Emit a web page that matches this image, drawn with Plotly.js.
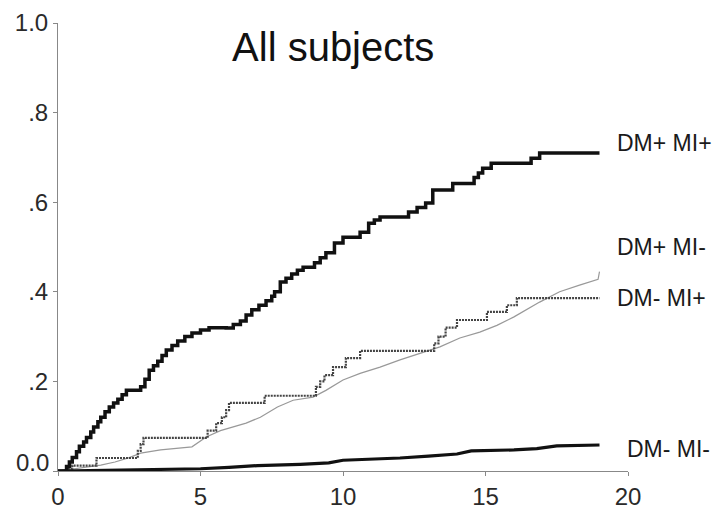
<!DOCTYPE html>
<html>
<head>
<meta charset="utf-8">
<script src="https://cdn.plot.ly/plotly-3.0.1.min.js"></script>
<style>html,body{margin:0;padding:0;background:#fff;}#chart{width:726px;height:510px;}</style>
</head>
<body>
<div id="chart"></div>
<script>
// Years of follow-up (x) and cumulative incidence (y) for each group
const dmPosMiPosX = [0,0.3,0.4,0.5,0.65,0.75,0.9,1.0,1.15,1.25,1.4,1.5,1.65,1.8,1.95,2.1,2.25,2.4,2.9,3.05,3.2,3.35,3.5,3.65,3.8,4.0,4.2,4.45,4.7,5.0,5.3,5.9,6.15,6.4,6.6,6.8,7.05,7.3,7.5,7.6,7.8,8.0,8.2,8.4,8.6,9.0,9.2,9.4,9.7,10.0,10.6,10.9,11.1,11.3,11.9,12.3,12.6,12.9,13.15,13.85,14.6,14.75,14.9,15.2,16.6,16.9,19.0];
const dmPosMiPosY = [0,0.01,0.02,0.03,0.043,0.055,0.065,0.075,0.087,0.098,0.11,0.12,0.132,0.143,0.152,0.16,0.17,0.18,0.188,0.205,0.225,0.235,0.245,0.258,0.27,0.28,0.29,0.3,0.308,0.315,0.32,0.319,0.327,0.335,0.348,0.36,0.37,0.38,0.39,0.40,0.422,0.43,0.44,0.448,0.455,0.465,0.476,0.487,0.509,0.522,0.533,0.553,0.56,0.567,0.567,0.578,0.588,0.598,0.627,0.642,0.655,0.665,0.676,0.687,0.698,0.71,0.71];

const dmNegMiPosX = [0,0.3,0.5,1.35,2.8,2.9,3.0,5.25,5.55,5.75,5.9,6.0,7.25,9.05,9.2,9.35,9.65,10.1,10.6,13.2,13.35,13.6,14.0,15.05,15.75,16.1,19.0];
const dmNegMiPosY = [0,0.005,0.012,0.029,0.045,0.06,0.074,0.09,0.107,0.12,0.136,0.152,0.168,0.188,0.2,0.214,0.232,0.252,0.268,0.285,0.30,0.32,0.337,0.355,0.37,0.386,0.386];

const dmPosMiNegX = [0,0.5,1.0,1.5,2.0,2.5,2.9,3.6,4.7,5.2,5.7,6.6,7.1,7.7,8.25,8.95,9.4,10.0,10.6,11.3,12.0,12.7,13.4,14.1,14.8,15.4,16.0,16.9,17.6,18.3,18.9,18.95,19.0];
const dmPosMiNegY = [0,0.004,0.008,0.013,0.02,0.03,0.04,0.047,0.054,0.076,0.09,0.107,0.12,0.143,0.158,0.165,0.18,0.203,0.218,0.232,0.248,0.263,0.277,0.297,0.31,0.325,0.344,0.377,0.40,0.415,0.426,0.428,0.445];

const dmNegMiNegX = [0,2,4,5,6,7,8.5,9.5,10,11,12,13,14,14.5,16,16.8,17.5,19];
const dmNegMiNegY = [0,0.002,0.004,0.005,0.008,0.012,0.015,0.018,0.024,0.026,0.029,0.033,0.038,0.045,0.047,0.05,0.056,0.058];

const groupLabels = ["DM+ MI+","DM+ MI-","DM- MI+","DM- MI-"];
const labelY = [0.732, 0.5, 0.386, 0.05];
const labelX = [19.55, 19.55, 19.55, 19.9];

const yTickVals = [0,0.2,0.4,0.6,0.8,1.0];
const yTickText = ["0.0",".2",".4",".6",".8","1.0"];
const xTickVals = [0,5,10,15,20];
const xTickText = ["0","5","10","15","20"];
const chartTitle = "All subjects";

const FONT = "'Liberation Sans', Arial, Helvetica, sans-serif";

const traces = [
  {x: dmPosMiNegX, y: dmPosMiNegY, mode:'lines', line:{color:'#999', width:1.2, shape:'linear'}, cliponaxis:false},
  {x: dmNegMiPosX, y: dmNegMiPosY, mode:'lines', line:{color:'#444', width:2.2, dash:'2px,1px', shape:'hv'}, cliponaxis:false},
  {x: dmNegMiNegX, y: dmNegMiNegY, mode:'lines', line:{color:'#111', width:3.2, shape:'linear'}, cliponaxis:false},
  {x: dmPosMiPosX, y: dmPosMiPosY, mode:'lines', line:{color:'#111', width:3.5, shape:'hv'}, cliponaxis:false}
];

const annotations = groupLabels.map((t,i)=>({
  x: labelX[i], y: labelY[i], xref:'x', yref:'y', text: t, showarrow:false,
  xanchor:'left', yanchor:'middle', font:{family:FONT, size:23, color:'#1a1a1a'}
}));
// the "0.0" tick label sits a little above its tick in the original
annotations.push({x:0, y:yTickVals[0], xref:'x', yref:'y', text: yTickText[0], showarrow:false,
  xanchor:'right', yanchor:'middle', xshift:-7, yshift:9, font:{family:FONT, size:24, color:'#2a2a2a'}});

const layout = {
  width:726, height:510,
  margin:{l:58, r:98, t:23, b:39},
  paper_bgcolor:'#fff', plot_bgcolor:'#fff',
  showlegend:false,
  title:{text: chartTitle, x:0.459, xanchor:'center', y:0.907, yanchor:'middle', font:{family:FONT, size:40, color:'#111'}},
  xaxis:{range:[0,20], tickvals:xTickVals, ticktext:xTickText, showgrid:false, zeroline:false,
    showline:true, linecolor:'#888', linewidth:1, ticks:'outside', ticklen:4, tickcolor:'#888',
    tickfont:{family:FONT, size:24, color:'#2a2a2a'}},
  yaxis:{range:[0,1], tickvals:yTickVals, ticktext:["", ...yTickText.slice(1)], showgrid:false, zeroline:false,
    showline:true, linecolor:'#888', linewidth:1, ticks:'outside', ticklen:4, tickcolor:'#888',
    tickfont:{family:FONT, size:24, color:'#2a2a2a'}},
  annotations: annotations
};

Plotly.newPlot('chart', traces, layout, {staticPlot:true, displayModeBar:false});
</script>
</body>
</html>
